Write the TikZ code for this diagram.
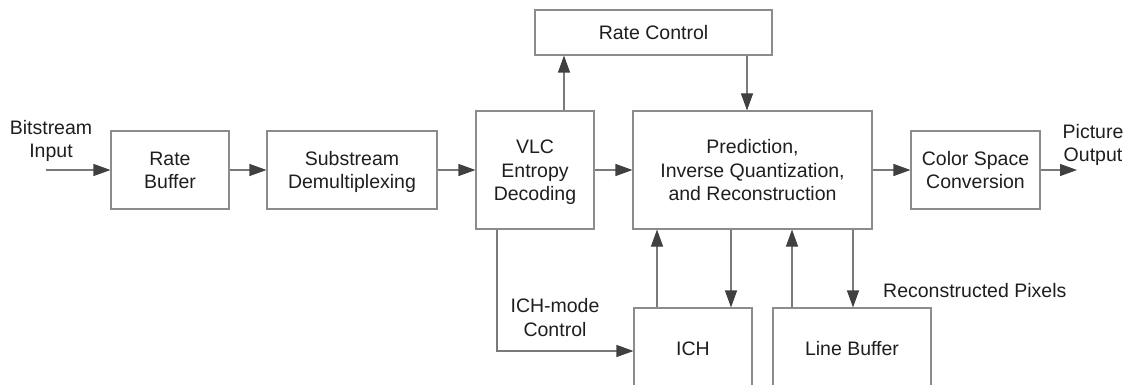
\documentclass[tikz,border=0pt]{standalone}
\usepackage{fontspec}
\setmainfont{Liberation Sans}
\usetikzlibrary{arrows.meta}
\definecolor{boxgray}{HTML}{8C8C8C}
\definecolor{linegray}{HTML}{7A7A7A}
\definecolor{tipgray}{HTML}{404040}
\definecolor{txtcol}{HTML}{1E1E1E}
\newcommand\lblfont{\fontsize{19.5}{23.5}\selectfont}
\begin{document}
\begin{tikzpicture}[x=1pt,y=-1pt,
  blk/.style={draw=boxgray,line width=1.1pt,inner sep=0pt,align=center,
    text=txtcol,font=\lblfont,text height=14pt,text depth=0pt},
  openblk/.style={blk},
  lbl/.style={inner sep=0pt,align=center,text=txtcol,font=\lblfont,
    text height=14pt,text depth=0pt},
  twolines/.style={text height=37.5pt},
  threelines/.style={text height=61pt},
  conn/.style={draw=linegray,line width=1.1pt,
    -{Triangle[length=17pt,width=12pt,color=tipgray]}},
  wire/.style={draw=linegray,line width=1.1pt}]
\useasboundingbox (0,0) rectangle (1134,385);
\clip (0,0) rectangle (1134,385);

% main processing chain
\node[blk,twolines,minimum width=118pt,minimum height=78pt] (rb) at (170,170) {Rate\\Buffer};
\node[blk,twolines,minimum width=170pt,minimum height=78pt] (sd) at (352,170) {Substream\\Demultiplexing};
\node[blk,threelines,minimum width=118pt,minimum height=118pt] (vlc) at (535,170) {VLC\\Entropy\\Decoding};
\node[blk,minimum width=237pt,minimum height=45pt] (rc) at (653.5,32.5) {Rate Control};
\node[blk,threelines,minimum width=239pt,minimum height=118pt] (pred) at (752.5,170)
  {Prediction,\\Inverse Quantization,\\and Reconstruction};
\node[blk,twolines,minimum width=129pt,minimum height=78pt] (csc) at (975.5,170) {Color Space\\Conversion};

% lower blocks, running past the bottom edge
\node[openblk,minimum width=118pt,minimum height=80pt] (ich) at (693,348) {ICH};
\node[openblk,minimum width=158pt,minimum height=80pt] (lb) at (852,348) {Line Buffer};

% free labels
\node[lbl,twolines] (inlbl) at (51,139) {Bitstream\\Input};
\node[lbl,twolines] (outlbl) at (1093,143) {Picture\\Output};
\node[lbl,twolines] (ichlbl) at (555,317.5) {ICH-mode\\Control};
\node[lbl,anchor=base west] (pixlbl) at (883,297) {Reconstructed Pixels};

\coordinate (src) at (46,170);
\coordinate (dst) at (1077,170);

% forward path
\draw[conn] (src) -- (rb.west);
\draw[conn] (rb) -- (sd);
\draw[conn] (sd) -- (vlc);
\draw[conn] (vlc) -- (pred);
\draw[conn] (pred) -- (csc);
\draw[conn] (csc.east) -- (dst);

% rate control loop
\draw[conn] ([xshift=29pt]vlc.north) -- ([xshift=29pt]vlc.north |- rc.south);
\draw[conn] ([xshift=93.5pt]rc.south) -- ([xshift=93.5pt]rc.south |- pred.north);

% history and line buffer exchanges
\draw[conn] ([xshift=-36pt]ich.north) -- ([xshift=-36pt]ich.north |- pred.south);
\draw[conn] ([xshift=38pt]ich.north |- pred.south) -- ([xshift=38pt]ich.north);
\draw[conn] ([xshift=-60pt]lb.north) -- ([xshift=-60pt]lb.north |- pred.south);
\draw[conn] ([xshift=1pt]lb.north |- pred.south) -- ([xshift=1pt]lb.north);

% ICH mode control
\draw[conn] ([xshift=-38pt]vlc.south) |- ([yshift=-3pt]ich.west);
\end{tikzpicture}
\end{document}
